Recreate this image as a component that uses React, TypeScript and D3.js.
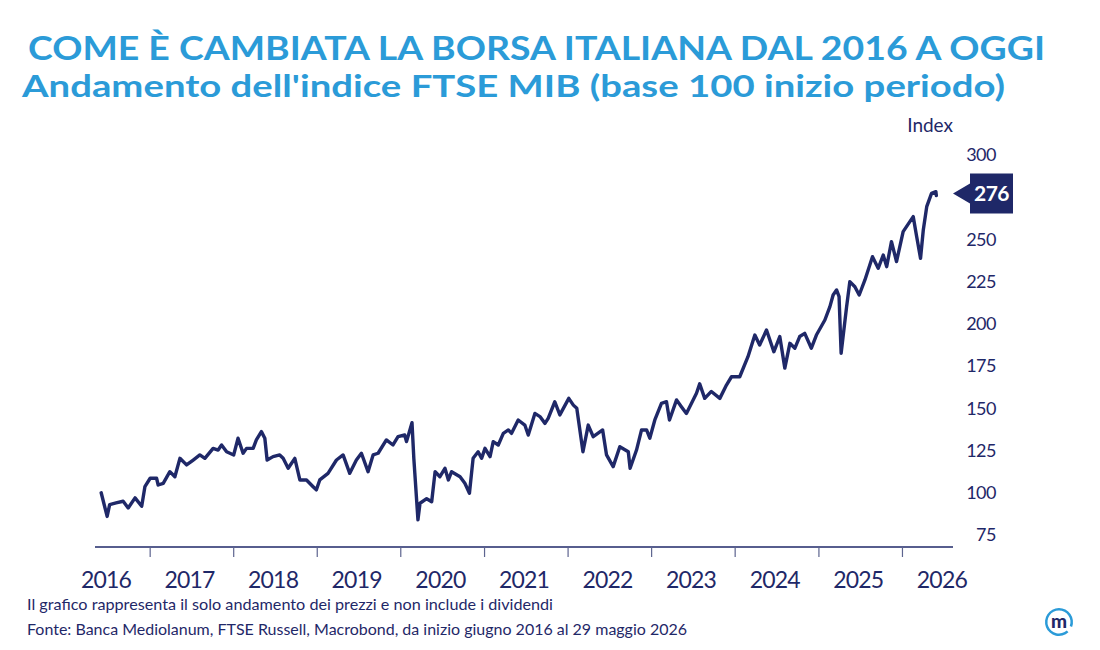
import * as d3 from 'd3';

// FTSE MIB, base 100 = inizio giugno 2016
const dates = [
  '2016-06-01', '2016-06-27', '2016-07-08', '2016-08-05', '2016-09-05', '2016-09-27', '2016-10-27', '2016-11-25', '2016-12-09',
  '2017-01-01', '2017-01-29', '2017-02-05', '2017-02-27', '2017-03-28', '2017-04-19', '2017-05-11', '2017-06-09', '2017-07-08',
  '2017-08-06', '2017-08-28', '2017-10-03', '2017-10-25', '2017-11-09', '2017-12-01',
  '2018-01-01', '2018-01-20', '2018-02-11', '2018-02-26', '2018-03-27', '2018-04-10', '2018-05-02', '2018-05-17', '2018-05-27',
  '2018-06-22', '2018-07-21', '2018-08-05', '2018-08-27', '2018-09-25', '2018-10-17', '2018-11-15', '2018-12-14', '2018-12-28',
  '2019-01-12', '2019-02-17', '2019-03-26', '2019-04-24', '2019-05-23', '2019-06-21', '2019-07-13', '2019-08-11', '2019-09-02',
  '2019-09-24', '2019-10-30', '2019-11-28', '2019-12-20',
  '2020-01-18', '2020-01-26', '2020-02-19', '2020-02-27', '2020-03-16', '2020-03-25', '2020-04-23', '2020-05-15', '2020-05-30',
  '2020-06-20', '2020-07-12', '2020-07-27', '2020-08-10', '2020-09-16', '2020-10-07', '2020-10-27', '2020-11-12', '2020-12-04',
  '2020-12-19',
  '2021-01-03', '2021-01-25', '2021-02-08', '2021-03-02', '2021-03-24', '2021-04-15', '2021-04-29', '2021-05-28', '2021-06-26',
  '2021-07-11', '2021-08-09', '2021-08-31', '2021-09-22', '2021-10-06', '2021-11-04', '2021-11-26',
  '2022-01-04', '2022-01-24', '2022-02-08', '2022-03-07', '2022-03-30', '2022-04-21', '2022-06-01', '2022-06-18', '2022-07-17',
  '2022-08-15', '2022-09-21', '2022-09-29', '2022-10-27', '2022-11-18', '2022-12-10', '2022-12-24',
  '2023-01-15', '2023-02-13', '2023-03-07', '2023-03-20', '2023-04-20', '2023-05-11', '2023-06-02', '2023-07-16', '2023-07-30',
  '2023-08-21', '2023-09-19', '2023-10-26', '2023-11-24', '2023-12-16',
  '2024-01-21', '2024-02-26', '2024-03-27', '2024-04-17', '2024-05-17', '2024-06-18', '2024-07-14', '2024-08-05', '2024-08-27',
  '2024-09-18', '2024-10-09', '2024-10-31', '2024-11-29', '2024-12-21',
  '2025-01-27', '2025-02-18', '2025-03-04', '2025-03-19', '2025-03-30', '2025-04-08', '2025-05-02', '2025-05-16', '2025-06-07',
  '2025-06-26', '2025-07-21', '2025-08-23', '2025-09-17', '2025-10-09', '2025-10-24', '2025-11-14', '2025-12-06',
  '2026-01-04', '2026-02-17', '2026-03-04', '2026-03-21', '2026-04-02', '2026-04-17', '2026-05-08', '2026-05-27', '2026-05-29',
];

const values = [
  100, 86, 93, 94, 95, 91, 97, 92, 103.6,
  108.6, 108.6, 104.6, 105.6, 112.5, 109.5, 120.4, 116.5, 119.4,
  122.4, 120.4, 126.3, 125.3, 128.3, 124.3,
  122.4, 132.3, 123.4, 126.3, 126.3, 131.3, 136.2, 132.3, 119.4,
  121.4, 122.4, 120.4, 114.5, 120.4, 107.6, 107.6, 103.6, 101.7,
  107.6, 111.5, 119.4, 122.4, 111.5, 119.4, 123.4, 112.5, 122.4,
  123.4, 131.3, 128.3, 133.2,
  134.2, 130.3, 141.5, 120.4, 84, 93.8, 96.5, 94.7, 112.5,
  109.5, 114.5, 107.6, 112.5, 109.5, 105.6, 99.7, 120.4, 124.3,
  120.4,
  126.3, 121.4, 130.3, 128.3, 135.2, 137.2, 135.2, 143.1, 140.1,
  134.2, 147, 145.1, 141.1, 144.1, 153.9, 146.1,
  155.9, 151.9, 150, 124.3, 140.1, 133.2, 137.2, 122.4, 115.5,
  127.3, 124.3, 114.5, 125.3, 137.2, 137.2, 132.3,
  143.1, 153, 153.9, 143.1, 155, 151, 147, 158.9, 164.5,
  155.9, 160, 155.9, 163.8, 168.7,
  168.7, 180.6, 193.4, 187.5, 196.4, 183.5, 192.5, 173.8, 188.5,
  185.6, 192.5, 194.4, 185.6, 193.4,
  202.3, 210.2, 217.1, 220.1, 216.1, 182.6, 210.2, 225, 222,
  217.1, 226, 239.8, 232.9, 240.8, 233.9, 248.7, 236.9,
  254.6, 263.5, 251.7, 238.8, 255.6, 269.4, 277.3, 278.3, 276,
];

const yTicks = [75, 100, 125, 150, 175, 200, 225, 250, 300];
const years = [2016, 2017, 2018, 2019, 2020, 2021, 2022, 2023, 2024, 2025, 2026];
const lastValue = 276;

const NAVY = '#1f2868';
const BLUE = '#2b9bd8';
const FONT = 'Lato, "Open Sans", sans-serif';

const series = dates.map((d, i) => ({ date: new Date(d), value: values[i] }));

export default function App() {
  const x = d3.scaleTime()
    .domain([new Date(2016, 0, 1), new Date(2027, 0, 1)])
    .range([66.4, 986]);
  const y = d3.scaleLinear().domain([75, 300]).range([535, 155]);

  const line = d3.line<{ date: Date; value: number }>()
    .x(d => x(d.date))
    .y(d => y(d.value));

  const axisY = 547;
  const lastY = y(lastValue);
  const tickYears = years.slice(1);

  return (
    <div style={{ position: 'absolute', left: 0, top: 0 }}>
      <svg width={1100} height={650} style={{ display: 'block', background: '#fff' }} fontFamily={FONT}>
        {/* titolo */}
        <text x={28} y={60} fill={BLUE} fontSize={33} fontWeight={700} textLength={1017} lengthAdjust="spacingAndGlyphs">
          COME È CAMBIATA LA BORSA ITALIANA DAL 2016 A OGGI
        </text>
        <text x={22} y={97} fill={BLUE} fontSize={30} fontWeight={700} textLength={983} lengthAdjust="spacingAndGlyphs">
          Andamento dell'indice FTSE MIB (base 100 inizio periodo)
        </text>

        <text x={953} y={132} fill={NAVY} fontSize={19} textAnchor="end">Index</text>

        {/* asse y a destra */}
        {yTicks.map(t => (
          <text key={t} x={996} y={y(t)} dy="0.35em" fill={NAVY} fontSize={18} textAnchor="end" letterSpacing={-0.5}>
            {t}
          </text>
        ))}

        {/* asse x */}
        <line x1={95} x2={953} y1={axisY} y2={axisY} stroke={NAVY} strokeWidth={1.5} />
        {tickYears.map(yr => (
          <line
            key={yr}
            x1={x(new Date(yr, 0, 1))}
            x2={x(new Date(yr, 0, 1))}
            y1={axisY}
            y2={axisY + 10}
            stroke="#5d648f"
            strokeWidth={1.2}
          />
        ))}
        {years.map(yr => (
          <text key={yr} x={x(new Date(yr, 6, 1)) - 2} y={588} fill={NAVY} fontSize={23} textAnchor="middle" letterSpacing={-0.8}>
            {yr}
          </text>
        ))}

        {/* serie */}
        <path d={line(series) ?? ''} fill="none" stroke={NAVY} strokeWidth={3.4} strokeLinejoin="round" strokeLinecap="round" />

        {/* etichetta ultimo valore */}
        <path
          d={`M953,${lastY - 2} L970,${lastY - 12} L970,${lastY - 22} L1013,${lastY - 22} L1013,${lastY + 18} L970,${lastY + 18} L970,${lastY + 8} Z`}
          fill={NAVY}
        />
        <text x={991.5} y={lastY - 2} dy="0.35em" fill="#fff" fontSize={21} fontWeight={700} textAnchor="middle" letterSpacing={-0.5}>
          {lastValue}
        </text>

        {/* note */}
        <text x={27} y={610} fill={NAVY} fontSize={16} textLength={526} lengthAdjust="spacingAndGlyphs">
          Il grafico rappresenta il solo andamento dei prezzi e non include i dividendi
        </text>
        <text x={27} y={635} fill={NAVY} fontSize={16} textLength={660} lengthAdjust="spacingAndGlyphs">
          Fonte: Banca Mediolanum, FTSE Russell, Macrobond, da inizio giugno 2016 al 29 maggio 2026
        </text>

        {/* logo */}
        <g transform="translate(1059,622)">
          <path d={d3.arc()({ innerRadius: 11.5, outerRadius: 14, startAngle: 2.4, endAngle: 2.4 + Math.PI * 1.85 } as any) ?? ''} fill={BLUE} />
          <text x={0} y={0} dy="0.32em" textAnchor="middle" fill={NAVY} fontSize={19} fontWeight={900}>m</text>
        </g>
      </svg>
    </div>
  );
}
